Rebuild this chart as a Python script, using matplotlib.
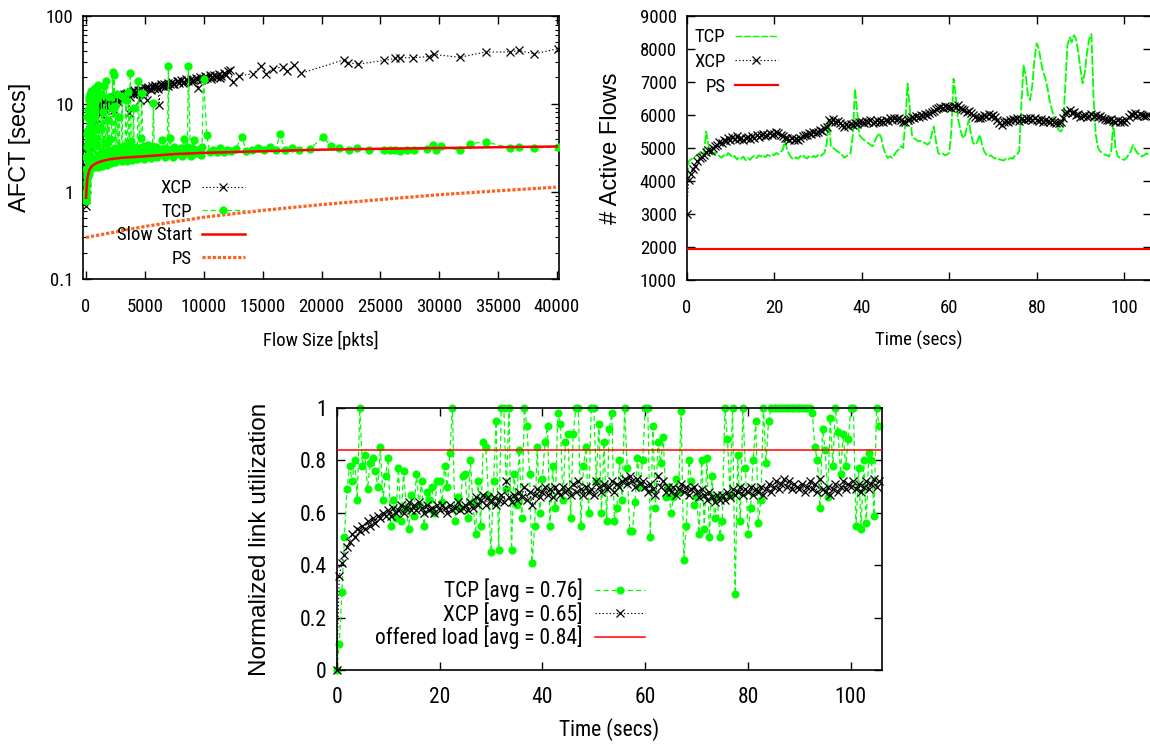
import matplotlib
matplotlib.use('Agg')
import matplotlib.pyplot as plt
from matplotlib import font_manager
from matplotlib.ticker import NullFormatter, LogLocator

# Pick a condensed Helvetica-like face if present, else Liberation Sans at a reduced size
_names = {f.name for f in font_manager.fontManager.ttflist}
NARROW, SCALE = 'Liberation Sans', 0.86
for cand in ['Liberation Sans Narrow', 'Arial Narrow', 'Roboto Condensed']:
    if cand in _names:
        NARROW, SCALE = cand, 1.0
        break
plt.rcParams['font.family'] = [NARROW, 'Liberation Sans', 'DejaVu Sans']

# ---------------- Panel 1: AFCT vs flow size ----------------
xcp_size = [10, 30, 45, 60, 100, 120, 150, 200, 230, 260, 300, 330, 400, 440, 480, 520, 570, 620, 670, 720, 780, 840, 900, 960,
            1000, 1080, 1150, 1230, 1300, 1380, 1450, 1520, 1600, 1680, 1750, 1820, 1900, 1980, 2060, 2140, 2220, 2300, 2380, 2460, 2540, 2620, 2700, 2780, 2860, 2940,
            3050, 3200, 3350, 3500, 3650, 3800, 3950, 4100, 4250, 4400, 4550, 4700, 4850, 5000, 5150, 5300, 5450, 5600, 5750, 5900, 6050, 6200, 6350, 6500, 6650, 6800, 6950,
            7100, 7300, 7500, 7700, 7900, 8100, 8300, 8500, 8700, 8900, 9100, 9300, 9500, 9700, 9900, 10100, 10300, 10500, 10700, 10900, 11100, 11300, 11500, 11700, 11900, 12100, 12200,
            12490, 13000, 14180, 14900, 15300, 15880, 16720, 17060, 17700, 18280, 21950, 22230, 23080, 25340, 26270, 26700, 27800, 29100, 29530, 31720, 33930, 36050, 36760, 38040, 40100]
xcp_afct = [0.68, 0.90, 1.6, 1.3, 1.9, 2.8, 2.6, 3.2, 2.9, 3.9, 5.0, 4.6, 5.3, 4.6, 6.0, 7.0, 6.7, 5.8, 7.3, 8.5, 7.9, 6.9, 8.4, 9.2,
            8.2, 9.0, 7.6, 9.4, 8.8, 10.0, 9.2, 10.3, 9.6, 10.6, 6.5, 10.8, 10.2, 11.2, 10.5, 11.5, 10.8, 11.8, 8.5, 12.0, 11.2, 12.3, 11.5, 12.5, 11.8, 12.7,
            12.1, 13.0, 12.4, 13.4, 7.8, 13.7, 13.0, 14.2, 13.4, 14.5, 11.0, 14.9, 14.1, 15.3, 11.1, 15.6, 14.8, 16.0, 15.2, 16.3, 15.5, 9.8, 16.7, 15.9, 17.0, 16.2, 17.4,
            16.6, 17.8, 17.0, 18.2, 17.3, 18.6, 17.7, 19.0, 18.1, 19.4, 18.5, 19.8, 15.0, 20.2, 19.2, 20.6, 19.6, 21.0, 20.0, 21.4, 20.3, 21.8, 20.7, 22.3, 21.2, 23.5, 24.5,
            17.5, 20.8, 22.0, 27.0, 22.0, 25.0, 26.5, 23.4, 27.5, 22.3, 31.8, 29.5, 28.3, 31.2, 33.0, 33.5, 33.5, 34.5, 36.5, 33.8, 38.9, 38.9, 40.5, 37.0, 42.5]
# additional XCP flows inside the dense band
xcp_band_size = [1040, 1190, 1340, 1490, 1640, 1790, 1940, 2100, 2260, 2420, 2580, 2740, 2900, 3130, 3430, 3720, 4020, 4320, 4620, 4920,
                 5220, 5520, 5820, 6120, 6420, 6720, 7000, 7400, 7800, 8200, 8600, 9000, 9400, 9800, 10200, 10600, 11000, 11400, 11800]
xcp_band_afct = [9.6, 8.3, 9.2, 8.7, 10.2, 9.4, 11.0, 9.8, 11.3, 10.4, 11.7, 10.6, 12.2, 11.5, 12.8, 12.0, 13.8, 12.9, 14.4, 13.6,
                 15.0, 14.2, 15.8, 14.8, 16.3, 15.4, 16.0, 16.8, 18.0, 17.2, 18.6, 17.8, 19.3, 18.6, 20.1, 19.2, 20.8, 19.8, 21.6]

tcp_size = [0, 5, 15, 20, 30, 40, 50, 60, 70, 80, 90, 100, 110, 120, 130, 140, 150, 160, 175, 190,
            200, 215, 225, 240, 250, 265, 280, 295, 310, 325, 340, 355, 370, 385, 400, 420, 440, 460, 480, 500,
            520, 540, 560, 580, 600, 625, 650, 675, 700, 725, 750, 775, 800, 825, 850, 875, 900, 925, 950, 975,
            1000, 1060, 1120, 1180, 1240, 1300, 1360, 1420, 1480, 1540, 1600, 1660, 1720, 1780, 1840, 1900, 1960, 2020, 2080, 2140, 2200, 2260, 2320, 2380, 2440, 2500, 2580, 2660, 2740, 2820,
            2900, 2980, 3060, 3140, 3220, 3300, 3400, 3500, 3600, 3700, 3760, 3850, 3950, 4050, 4150, 4250, 4350, 4450, 4550, 4650, 4730, 4850, 4950, 5050, 5150, 5250, 5350, 5450, 5550, 5650,
            5720, 5850, 5950, 6100, 6250, 6440, 6600, 6750, 6900, 7000, 7150, 7300, 7450, 7600, 7750, 7900, 8050, 8200, 8280, 8450, 8600, 8700, 8850, 9000, 9130, 9300, 9500, 9700, 9850, 9980,
            10270, 10500, 10800, 11100, 11400, 11700, 12000, 12300, 12700, 13240, 13600, 14100, 14600, 15100, 15600, 16100, 16470, 16900, 17500, 18100, 19000, 20140, 20800, 21500, 22300, 23000, 24000, 25290, 25800, 26280,
            26700, 27270, 27840, 28970, 29480, 29760, 30160, 31720, 32650, 33930, 36050, 36760, 38040, 40100]
tcp_afct = [0.78, 0.90, 0.85, 1.80, 1.00, 2.50, 1.20, 1.00, 1.45, 4.50, 3.20, 1.30, 1.60, 7.00, 5.00, 2.20, 1.75, 1.50, 8.50, 3.80,
            1.85, 1.70, 2.60, 11.0, 12.0, 1.60, 1.95, 4.80, 6.00, 1.80, 2.00, 13.0, 9.50, 1.90, 2.05, 5.50, 14.0, 2.00, 2.10, 8.00,
            4.20, 1.90, 2.15, 12.5, 10.5, 2.00, 2.20, 3.60, 7.00, 1.90, 2.25, 9.00, 15.0, 2.00, 2.30, 5.20, 3.40, 2.10, 11.5, 14.5,
            2.30, 16.5, 2.00, 5.50, 2.40, 13.0, 2.10, 8.00, 2.90, 16.0, 2.20, 3.60, 18.3, 2.45, 6.50, 2.15, 12.0, 2.80, 4.00, 2.25, 9.00, 23.0, 2.55, 21.5, 2.30, 9.50, 3.00, 13.0, 2.35, 7.00,
            2.60, 3.10, 12.4, 2.40, 3.30, 2.70, 11.0, 2.45, 13.5, 2.90, 22.5, 3.75, 2.50, 9.00, 3.20, 2.50, 3.00, 18.0, 2.55, 4.10, 13.3, 2.60, 3.30, 2.50, 3.10, 3.40, 2.55, 3.00, 2.60, 3.20,
            10.3, 2.65, 3.20, 2.60, 3.00, 3.90, 2.65, 3.10, 2.70, 27.2, 4.10, 2.70, 3.20, 2.65, 3.00, 2.75, 3.10, 2.70, 4.00, 2.75, 3.20, 26.7, 2.75, 3.10, 3.85, 2.75, 3.00, 2.80, 3.20, 19.2,
            4.35, 2.80, 3.00, 2.85, 3.10, 2.85, 3.00, 2.90, 3.05, 4.20, 2.90, 3.00, 3.10, 2.95, 3.25, 2.95, 4.55, 3.00, 3.10, 2.95, 3.05, 4.20, 3.30, 3.10, 3.00, 3.15, 2.95, 3.00, 2.95, 2.95,
            2.88, 2.95, 2.95, 3.09, 3.43, 2.95, 3.28, 2.95, 3.52, 3.68, 3.14, 3.23, 3.14, 3.20]
# additional TCP flows inside the slow-start band
tcp_band_size = [1030, 1210, 1390, 1570, 1750, 1930, 2110, 2290, 2470, 2620, 2780, 3020, 3260, 3450, 3650, 3900, 4100, 4300, 4600, 4900,
                 5200, 5500, 5800, 6050, 6350, 6700, 7050, 7400, 7800, 8150, 8550, 8950, 9400, 9800]
tcp_band_afct = [1.90, 2.70, 1.95, 2.60, 2.00, 3.00, 2.10, 2.90, 2.15, 2.50, 3.20, 2.20, 2.90, 2.25, 3.30, 2.30, 2.85, 2.35, 3.10, 2.35,
                 2.90, 2.40, 3.25, 2.45, 2.90, 2.45, 3.00, 2.50, 2.95, 2.55, 3.05, 2.55, 2.95, 2.60]

ss_size = [10, 50, 100, 200, 300, 500, 750, 1000, 1500, 2000, 3000, 4000, 5000, 7500, 10000, 15000, 20000, 25000, 30000, 35000, 40000]
ss_afct = [0.85, 1.10, 1.35, 1.60, 1.78, 1.95, 2.05, 2.14, 2.25, 2.33, 2.42, 2.47, 2.52, 2.67, 2.76, 2.88, 3.00, 3.07, 3.13, 3.20, 3.26]

ps_size = [0, 5000, 10000, 15000, 20000, 25000, 30000, 35000, 39900]
ps_afct = [0.30, 0.40, 0.51, 0.61, 0.71, 0.81, 0.92, 1.02, 1.12]

afct_xticks = [0, 5000, 10000, 15000, 20000, 25000, 30000, 35000, 40000]
afct_yticks = [0.1, 1, 10, 100]
afct_yticklabels = ['0.1', '1', '10', '100']

# ---------------- Panel 2: active flows vs time ----------------
SAMPLE_INTERVAL = 0.5
tcp_flows = [3800, 4600, 4650, 4700, 4750, 4800, 4850, 4780, 4820, 5500,
             5100, 4850, 4800, 4870, 4820, 4760, 4700, 4780, 4730, 4850,
             4790, 4700, 4760, 4650, 4720, 4680, 4740, 4630, 4700, 4640,
             4720, 4760, 4690, 4780, 4740, 4800, 4720, 4790, 4760, 4820,
             4780, 4850, 4810, 4880, 4950, 5200, 4950, 4800, 4700, 4650,
             4720, 4680, 4750, 4800, 4720, 4680, 4740, 4700, 4760, 4720,
             4780, 4740, 4800, 4850, 5100, 5850, 5050, 5000, 4950, 4900,
             4850, 4800, 4700, 4750, 4780, 4850, 5400, 6800, 6100, 5400,
             5300, 5250, 5200, 5150, 5100, 5050, 5200, 5350, 5450, 5300,
             5000, 4800, 4700, 4750, 4700, 4800, 4900, 4950, 5050, 5000,
             5800, 6950, 6200, 5400, 5300, 5250, 5200, 5220, 5180, 5150,
             5100, 5150, 5400, 5650, 5200, 4850, 4800, 4830, 4780, 4800,
             4850, 5500, 7100, 6600, 5900, 5600, 5350, 5300, 5600, 5850,
             5400, 5150, 5100, 5200, 5400, 5100, 4900, 4800, 4750, 4780,
             4720, 4680, 4700, 4650, 4640, 4620, 4680, 4650, 4700, 4680,
             4760, 4800, 4900, 6300, 7500, 7200, 6600, 6450, 6900, 7700,
             8170, 8000, 7600, 7300, 7100, 6800, 6400, 6150, 5900, 5750,
             5550, 5500, 5600, 6800, 8100, 8350, 8200, 8420, 8300, 7900,
             7400, 6960, 7300, 7900, 8300, 8450, 6500, 5400, 5000, 4900,
             4850, 4800, 4780, 4740, 4900, 5750, 5000, 4760, 4700, 4660,
             4640, 4700, 4800, 4900, 5090, 4950, 4850, 4800, 4740, 4780,
             4840, 4800]
xcp_flows = [3000, 4030, 4200, 4350, 4450, 4600, 4700, 4740, 4800, 4880,
             4940, 4900, 5000, 5050, 5100, 5190, 5150, 5250, 5200, 5290,
             5250, 5320, 5280, 5350, 5260, 5300, 5230, 5290, 5340, 5260,
             5350, 5300, 5400, 5340, 5380, 5420, 5360, 5400, 5450, 5380,
             5420, 5500, 5460, 5380, 5350, 5300, 5290, 5250, 5300, 5230,
             5260, 5230, 5300, 5350, 5400, 5380, 5450, 5420, 5500, 5460,
             5500, 5560, 5520, 5600, 5640, 5850, 5800, 5870, 5780, 5820,
             5760, 5700, 5650, 5720, 5680, 5740, 5700, 5760, 5720, 5780,
             5800, 5760, 5820, 5780, 5840, 5760, 5800, 5850, 5780, 5820,
             5780, 5860, 5820, 5900, 5850, 5920, 5880, 5900, 5850, 5800,
             5780, 5850, 5880, 5950, 5900, 5980, 5950, 6000, 5960, 6020,
             6000, 6050, 6080, 6120, 6180, 6220, 6250, 6200, 6280, 6230,
             6250, 6200, 6280, 6250, 6300, 6220, 6180, 6150, 6100, 6120,
             6050, 6000, 5950, 5920, 5900, 5950, 6000, 5960, 6020, 5980,
             6000, 5950, 5850, 5750, 5700, 5780, 5820, 5800, 5850, 5880,
             5850, 5900, 5820, 5880, 5850, 5900, 5880, 5920, 5860, 5900,
             5850, 5820, 5880, 5800, 5860, 5820, 5780, 5840, 5800, 5760,
             5750, 5800, 5900, 6050, 6100, 6150, 6050, 6100, 6000, 6020,
             5950, 5980, 6000, 5940, 5980, 6020, 5960, 6000, 5940, 5980,
             5900, 5880, 5860, 5840, 5870, 5820, 5800, 5840, 5780, 5820,
             5800, 5850, 5950, 6020, 6000, 6050, 5980, 6020, 6000, 5980,
             5980, 6000]
PS_FLOWS = 1950
flows_xticks = [0, 20, 40, 60, 80, 100]
flows_yticks = [1000, 2000, 3000, 4000, 5000, 6000, 7000, 8000, 9000]

# ---------------- Panel 3: link utilization vs time ----------------
tcp_util = [0.00, 0.10, 0.30, 0.51, 0.69, 0.78, 0.72, 0.80, 0.65, 1.00,
            0.78, 0.82, 0.69, 0.79, 0.81, 0.76, 0.70, 0.85, 0.65, 0.74,
            0.81, 0.55, 0.65, 0.58, 0.77, 0.57, 0.76, 0.62, 0.54, 0.67,
            0.59, 0.75, 0.63, 0.72, 0.55, 0.68, 0.65, 0.70, 0.60, 0.72,
            0.72, 0.64, 0.78, 0.70, 0.83, 1.00, 0.57, 0.66, 0.62, 0.74,
            0.75, 0.58, 0.80, 0.64, 0.52, 0.72, 0.55, 0.87, 0.85, 0.67,
            0.45, 0.72, 0.95, 0.46, 1.00, 1.00, 0.69, 1.00, 0.46, 0.75,
            0.63, 0.84, 0.58, 1.00, 0.93, 0.75, 0.41, 0.55, 0.85, 0.60,
            0.73, 0.87, 0.93, 0.55, 0.78, 0.62, 0.98, 0.94, 0.65, 0.87,
            0.90, 0.58, 0.90, 1.00, 1.00, 0.55, 0.78, 0.85, 0.60, 1.00,
            1.00, 0.72, 0.94, 0.60, 0.87, 0.57, 0.92, 0.98, 0.57, 0.62,
            0.80, 0.65, 1.00, 0.77, 0.53, 0.53, 0.64, 0.81, 0.70, 0.80,
            1.00, 1.00, 0.51, 0.93, 0.62, 0.87, 0.79, 0.89, 0.66, 0.70,
            0.60, 0.66, 0.73, 0.68, 0.99, 0.42, 0.55, 0.80, 0.72, 0.63,
            0.66, 0.52, 0.80, 0.54, 0.81, 0.51, 0.74, 0.58, 0.66, 0.51,
            0.57, 1.00, 0.88, 0.67, 1.00, 0.29, 0.82, 0.57, 1.00, 0.77,
            0.52, 0.62, 0.80, 0.95, 0.56, 0.65, 1.00, 0.79, 0.95, 1.00,
            1.00, 1.00, 1.00, 1.00, 1.00, 1.00, 1.00, 1.00, 1.00, 1.00,
            1.00, 1.00, 1.00, 1.00, 1.00, 0.98, 0.85, 0.80, 0.62, 0.92,
            0.84, 0.66, 0.96, 0.78, 1.00, 0.91, 0.75, 0.90, 0.78, 0.88,
            1.00, 1.00, 0.55, 0.77, 0.54, 0.80, 0.56, 0.83, 0.80, 0.59,
            1.00, 0.93]
xcp_util = [0.00, 0.36, 0.41, 0.44, 0.47, 0.49, 0.52, 0.51, 0.54, 0.53,
            0.55, 0.54, 0.57, 0.55, 0.58, 0.56, 0.59, 0.58, 0.60, 0.59,
            0.61, 0.59, 0.62, 0.60, 0.61, 0.63, 0.60, 0.62, 0.64, 0.61,
            0.63, 0.61, 0.64, 0.62, 0.60, 0.63, 0.61, 0.62, 0.60, 0.63,
            0.61, 0.63, 0.62, 0.60, 0.63, 0.61, 0.62, 0.64, 0.61, 0.62,
            0.63, 0.61, 0.64, 0.62, 0.66, 0.63, 0.65, 0.67, 0.63, 0.66,
            0.64, 0.66, 0.63, 0.65, 0.67, 0.64, 0.72, 0.66, 0.64, 0.67,
            0.65, 0.68, 0.66, 0.70, 0.65, 0.68, 0.63, 0.67, 0.69, 0.66,
            0.68, 0.70, 0.67, 0.69, 0.66, 0.70, 0.68, 0.67, 0.70, 0.68,
            0.69, 0.67, 0.71, 0.68, 0.72, 0.69, 0.67, 0.70, 0.68, 0.69,
            0.67, 0.72, 0.70, 0.68, 0.71, 0.69, 0.70, 0.72, 0.68, 0.71,
            0.70, 0.72, 0.73, 0.71, 0.74, 0.72, 0.70, 0.73, 0.71, 0.72,
            0.70, 0.68, 0.71, 0.69, 0.67, 0.74, 0.70, 0.72, 0.68, 0.70,
            0.68, 0.70, 0.67, 0.69, 0.71, 0.68, 0.70, 0.67, 0.69, 0.70,
            0.68, 0.66, 0.69, 0.67, 0.65, 0.68, 0.66, 0.64, 0.67, 0.65,
            0.67, 0.65, 0.68, 0.66, 0.69, 0.67, 0.68, 0.70, 0.67, 0.69,
            0.68, 0.70, 0.67, 0.69, 0.68, 0.70, 0.67, 0.69, 0.71, 0.68,
            0.70, 0.72, 0.69, 0.71, 0.73, 0.70, 0.72, 0.69, 0.71, 0.70,
            0.69, 0.71, 0.68, 0.70, 0.72, 0.69, 0.71, 0.68, 0.73, 0.69,
            0.68, 0.70, 0.67, 0.69, 0.71, 0.68, 0.70, 0.72, 0.69, 0.71,
            0.70, 0.72, 0.69, 0.71, 0.68, 0.70, 0.72, 0.69, 0.71, 0.73,
            0.70, 0.72]
OFFERED_LOAD = 0.84
util_xticks = [0, 20, 40, 60, 80, 100]
util_yticks = [0, 0.2, 0.4, 0.6, 0.8, 1.0]
util_yticklabels = ['0', '0.2', '0.4', '0.6', '0.8', '1']

# ---------------- styles ----------------
GREEN = '#00ff00'
RED = '#ff0000'
ORANGE = '#ff6020'
TCP_DASH = (0, (4, 2.5))
XCP_DOT = (0, (1.2, 2.0))
YLAB_FONT = ['Liberation Sans', 'DejaVu Sans']
FS_TOP = 13.5 * SCALE    # tick / legend / xlabel size, upper panels
FS_BOT = 15.5 * SCALE    # same for the lower panel

W, H = 1150, 747
fig = plt.figure(figsize=(W / 100, H / 100), dpi=100)


def rect(l, t, r, b):
    return [l / W, (H - b) / H, (r - l) / W, (b - t) / H]


def style_axes(ax, fs, xpad):
    for s in ax.spines.values():
        s.set_linewidth(1.2)
    ax.tick_params(which='major', direction='in', top=True, right=True, length=5.5, width=1.0,
                   labelsize=fs)
    ax.tick_params(which='minor', direction='in', top=True, right=True, length=3, width=0.8)
    ax.tick_params(axis='x', pad=xpad)
    ax.tick_params(axis='y', pad=7)


def merged(a_x, a_y, b_x, b_y):
    pts = sorted(zip(list(a_x) + list(b_x), list(a_y) + list(b_y)), key=lambda p: p[0])
    return [p[0] for p in pts], [p[1] for p in pts]


# ---- Panel 1 ----
ax1 = fig.add_axes(rect(83.3, 16, 559, 279.3))
xs, ys = merged(xcp_size, xcp_afct, xcp_band_size, xcp_band_afct)
ax1.plot(xs, ys, color='black', linestyle=XCP_DOT, linewidth=0.8,
         marker='x', markersize=5.5, markeredgewidth=0.9, label='XCP', zorder=2)
xs, ys = merged(tcp_size, tcp_afct, tcp_band_size, tcp_band_afct)
ax1.plot(xs, ys, color=GREEN, linestyle=TCP_DASH, linewidth=0.9,
         marker='o', markersize=6, markeredgewidth=0, label='TCP', zorder=3)
ax1.plot(ss_size, ss_afct, color=RED, linewidth=1.8, label='Slow Start', zorder=4)
ax1.plot(ps_size, ps_afct, color=ORANGE, linewidth=2.3, linestyle=(0, (1.0, 0.6)), label='PS', zorder=5)
ax1.set_yscale('log')
ax1.set_xlim(-230, 40170)
ax1.set_ylim(0.1, 100)
ax1.set_xticks(afct_xticks)
ax1.set_yticks(afct_yticks)
ax1.set_yticklabels(afct_yticklabels)
ax1.yaxis.set_minor_locator(LogLocator(base=10, subs=[2, 3, 4, 5, 6, 7, 8, 9]))
ax1.yaxis.set_minor_formatter(NullFormatter())
style_axes(ax1, FS_TOP, 13.5)
ax1.set_xlabel('Flow Size [pkts]', fontsize=FS_TOP, va='center')
ax1.xaxis.set_label_coords(0.5, -(340 - 279.3) / 263.3)
ax1.set_ylabel('AFCT [secs]', fontsize=17, family=YLAB_FONT, va='center')
ax1.yaxis.set_label_coords((20 - 83.3) / 475.7, 0.5)
ax1.legend(loc='center right', bbox_to_anchor=((245 - 83.3) / 475.7, (279.3 - 223.5) / 263.3),
           frameon=False, markerfirst=False, numpoints=1, fontsize=FS_TOP, borderpad=0,
           borderaxespad=0, handlelength=2.3, handletextpad=0.53, labelspacing=0.3)

# ---- Panel 2 ----
ax2 = fig.add_axes(rect(686.5, 16, 1150.5, 280))
t_flows_tcp = [i * SAMPLE_INTERVAL for i in range(len(tcp_flows))]
t_flows_xcp = [i * SAMPLE_INTERVAL for i in range(len(xcp_flows))]
ax2.plot(t_flows_tcp, tcp_flows, color=GREEN, linestyle=(0, (5, 1.2)), linewidth=1.3, label='TCP', zorder=2)
ax2.plot(t_flows_xcp, xcp_flows, color='black', linestyle=XCP_DOT, linewidth=0.8,
         marker='x', markersize=5.5, markeredgewidth=0.9, label='XCP', zorder=3)
ax2.axhline(PS_FLOWS, color=RED, linewidth=1.6, label='PS', zorder=4)
ax2.set_xlim(0, 106)
ax2.set_ylim(1000, 9000)
ax2.set_xticks(flows_xticks)
ax2.set_yticks(flows_yticks)
style_axes(ax2, FS_TOP, 13.5)
ax2.set_xlabel('Time (secs)', fontsize=FS_TOP, va='center')
ax2.xaxis.set_label_coords(0.5, -(340 - 280) / 264)
ax2.set_ylabel('# Active Flows', fontsize=17, family=YLAB_FONT, va='center')
ax2.yaxis.set_label_coords((611 - 686.5) / 464, 0.5)
leg2 = ax2.legend(loc='center right', bbox_to_anchor=((778 - 686.5) / 464, (280 - 62) / 264),
                  frameon=False, markerfirst=False, numpoints=1, fontsize=FS_TOP, borderpad=0,
                  borderaxespad=0, handlelength=2.3, handletextpad=0.5, labelspacing=0.36)
leg2.get_lines()[0].set_linewidth(1.0)

# ---- Panel 3 ----
ax3 = fig.add_axes(rect(336.7, 408, 881.7, 670.3))
t_util_tcp = [i * SAMPLE_INTERVAL for i in range(len(tcp_util))]
t_util_xcp = [i * SAMPLE_INTERVAL for i in range(len(xcp_util))]
ax3.plot(t_util_tcp, tcp_util, color=GREEN, linestyle=TCP_DASH, linewidth=0.9,
         marker='o', markersize=5.8, markeredgewidth=0, label='TCP [avg = 0.76]', zorder=2, clip_on=False)
ax3.plot(t_util_xcp, xcp_util, color='black', linestyle=XCP_DOT, linewidth=0.8,
         marker='x', markersize=5.5, markeredgewidth=0.9, label='XCP [avg = 0.65]', zorder=3, clip_on=False)
ax3.axhline(OFFERED_LOAD, color=RED, linewidth=1.1, label='offered load [avg = 0.84]', zorder=4)
ax3.set_xlim(0, 106)
ax3.set_ylim(0, 1)
ax3.set_xticks(util_xticks)
ax3.set_yticks(util_yticks)
ax3.set_yticklabels(util_yticklabels)
style_axes(ax3, FS_BOT, 12)
ax3.set_xlabel('Time (secs)', fontsize=FS_BOT, va='center')
ax3.xaxis.set_label_coords(0.5, -(730 - 670.3) / 262.3)
ax3.set_ylabel('Normalized link utilization', fontsize=17.5, family=YLAB_FONT, va='center')
ax3.yaxis.set_label_coords((260 - 336.7) / 545, 0.5)
ax3.legend(loc='center right', bbox_to_anchor=((645 - 336.7) / 545, (670.3 - 614) / 262.3),
           frameon=False, markerfirst=False, numpoints=1, fontsize=FS_BOT, borderpad=0,
           borderaxespad=0, handlelength=2.33, handletextpad=0.56, labelspacing=0.0)

fig.savefig('out.png', dpi=100)
